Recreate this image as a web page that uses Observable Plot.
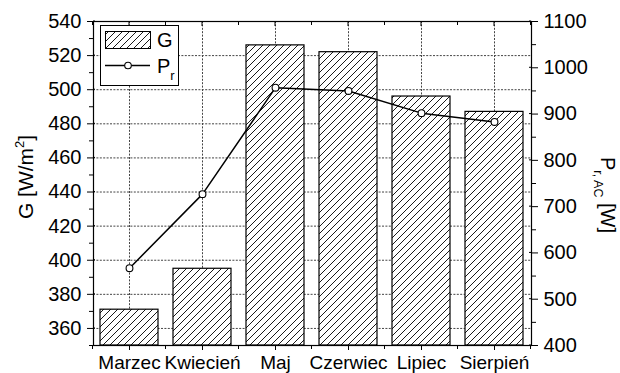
<!DOCTYPE html>
<html>
<head>
<meta charset="utf-8">
<script src="https://cdn.jsdelivr.net/npm/d3@7"></script>
<script src="https://cdn.jsdelivr.net/npm/@observablehq/plot@0.6"></script>
<style>
  body { margin: 0; background: #fff; }
</style>
</head>
<body>
<div id="chart"></div>
<script>
// Monthly mean irradiance (bars, left axis) and AC power (line, right axis)
const months = ["Marzec", "Kwiecień", "Maj", "Czerwiec", "Lipiec", "Sierpień"];
const irradiance = [371, 395, 526, 522, 496, 487];   // G [W/m²]
const power = [567, 727, 957, 950, 902, 883];        // P r,AC [W]

const gDomain = [350, 540];
const pDomain = [400, 1100];
const gTicks = [360, 380, 400, 420, 440, 460, 480, 500, 520, 540];
const gMinor = [350, 370, 390, 410, 430, 450, 470, 490, 510, 530];
const pTicks = [400, 500, 600, 700, 800, 900, 1000, 1100];
const pMinor = [450, 550, 650, 750, 850, 950, 1050];

// Both series share one y scale; power is mapped onto the G range
const pToG = p => gDomain[0] + (p - pDomain[0]) * (gDomain[1] - gDomain[0]) / (pDomain[1] - pDomain[0]);
const gToP = g => pDomain[0] + (g - gDomain[0]) * (pDomain[1] - pDomain[0]) / (gDomain[1] - gDomain[0]);

const rows = months.map((m, i) => ({month: m, G: irradiance[i], P: power[i]}));

const grid = {stroke: "#444", strokeWidth: 1, strokeDasharray: "2,1.4"};

const chart = Plot.plot({
  width: 620,
  height: 373,
  marginLeft: 93,
  marginRight: 89,
  marginTop: 21,
  marginBottom: 28,
  style: {
    fontFamily: "'Liberation Sans', Arial, sans-serif",
    fontSize: "20px",
    color: "#000",
    background: "#fff",
    overflow: "visible"
  },
  x: {domain: months, paddingInner: 0.2, paddingOuter: 0.1, axis: null},
  y: {domain: gDomain, axis: null},
  marks: [
    Plot.ruleY(gTicks, grid),
    Plot.ruleX(months, grid),
    Plot.barY(rows, {x: "month", y1: () => gDomain[0], y2: "G", fill: "url(#hatch)", stroke: "#000", strokeWidth: 1.2}),
    Plot.line(rows, {x: "month", y: d => pToG(d.P), stroke: "#000", strokeWidth: 1.5}),
    Plot.dot(rows, {x: "month", y: d => pToG(d.P), r: 3.4, fill: "#fff", stroke: "#000", strokeWidth: 1.1}),
    Plot.frame({stroke: "#000", strokeWidth: 1.2}),
    Plot.axisY({ticks: gTicks, anchor: "left", tickSize: 6, tickPadding: 6, label: null}),
    Plot.axisY({ticks: gMinor, anchor: "left", tickSize: 4, fill: "none", label: null}),
    Plot.axisY({ticks: pTicks.map(pToG), anchor: "right", tickSize: 6, tickPadding: 6,
                tickFormat: g => String(Math.round(gToP(g))), label: null}),
    Plot.axisY({ticks: pMinor.map(pToG), anchor: "right", tickSize: 4, fill: "none", label: null}),
    Plot.axisX({anchor: "bottom", tickSize: 5, tickPadding: 5, fontSize: 19, label: null})
  ]
});

const NS = "http://www.w3.org/2000/svg";
const el = (tag, attrs, parent) => {
  const n = document.createElementNS(NS, tag);
  for (const k in attrs) n.setAttribute(k, attrs[k]);
  if (parent) parent.appendChild(n);
  return n;
};

// Diagonal hatch pattern used by the bars and the legend swatch
const defs = el("defs", {});
chart.insertBefore(defs, chart.firstChild);
const pat = el("pattern", {id: "hatch", patternUnits: "userSpaceOnUse", width: 7, height: 7}, defs);
el("rect", {width: 7, height: 7, fill: "#fff"}, pat);
el("path", {d: "M-1,1L1,-1M0,7L7,0M6,8L8,6", stroke: "#000", "stroke-width": 0.9}, pat);

// Extra ticks: band boundaries, the top edge, and inner halves of major ticks
const xs = chart.scale("x"), ys = chart.scale("y");
const [xLeft, xRight] = xs.range;
const [yBottom, yTop] = ys.range;
const bw = xs.bandwidth;
const step = xs.step ?? bw / (1 - xs.paddingInner);
const centers = months.map(m => xs.apply(m) + bw / 2);
const bounds = [centers[0] - step / 2, ...centers.map(c => c + step / 2)];
const tickGroup = el("g", {stroke: "#000", "stroke-width": 1}, chart);
for (const b of bounds) {
  el("line", {x1: b, x2: b, y1: yBottom, y2: yBottom + 4}, tickGroup);
  el("line", {x1: b, x2: b, y1: yTop, y2: yTop + 4}, tickGroup);
}
for (const c of centers) el("line", {x1: c, x2: c, y1: yTop, y2: yTop + 5}, tickGroup);
for (const g of gTicks) {
  const y = ys.apply(g);
  el("line", {x1: xLeft, x2: xLeft + 2, y1: y, y2: y}, tickGroup);
}
for (const p of pTicks) {
  const y = ys.apply(pToG(p));
  el("line", {x1: xRight - 2, x2: xRight, y1: y, y2: y}, tickGroup);
}

// Legend
const lg = el("g", {"font-size": 20, fill: "#000", "text-anchor": "start"}, chart);
el("rect", {x: 100.5, y: 25.5, width: 78, height: 60, fill: "#fff", stroke: "#000", "stroke-width": 1}, lg);
el("rect", {x: 105.5, y: 31.5, width: 45, height: 17, fill: "url(#hatch)", stroke: "#000", "stroke-width": 1}, lg);
el("text", {x: 157, y: 47}, lg).textContent = "G";
el("line", {x1: 105, x2: 150, y1: 65.5, y2: 65.5, stroke: "#000", "stroke-width": 1.5}, lg);
el("circle", {cx: 128, cy: 65.5, r: 3.3, fill: "#fff", stroke: "#000", "stroke-width": 1.1}, lg);
const pl = el("text", {x: 157, y: 73}, lg);
pl.textContent = "P";
el("tspan", {"font-size": 13, dy: 7}, pl).textContent = "r";

// Axis titles
const lt = el("text", {transform: "translate(33,177) rotate(-90)", "text-anchor": "middle", "font-size": 21, fill: "#000"}, chart);
lt.appendChild(document.createTextNode("G [W/m"));
el("tspan", {"font-size": 13, dy: -9}, lt).textContent = "2";
el("tspan", {dy: 9}, lt).textContent = "]";

const rt = el("text", {transform: "translate(601,157) rotate(90)", "text-anchor": "start", "font-size": 20, fill: "#000"}, chart);
rt.appendChild(document.createTextNode("P"));
el("tspan", {"font-size": 12.5, dy: 7}, rt).textContent = "r, AC";
el("tspan", {dy: -7}, rt).textContent = " [W]";

document.getElementById("chart").appendChild(chart);
</script>
</body>
</html>
